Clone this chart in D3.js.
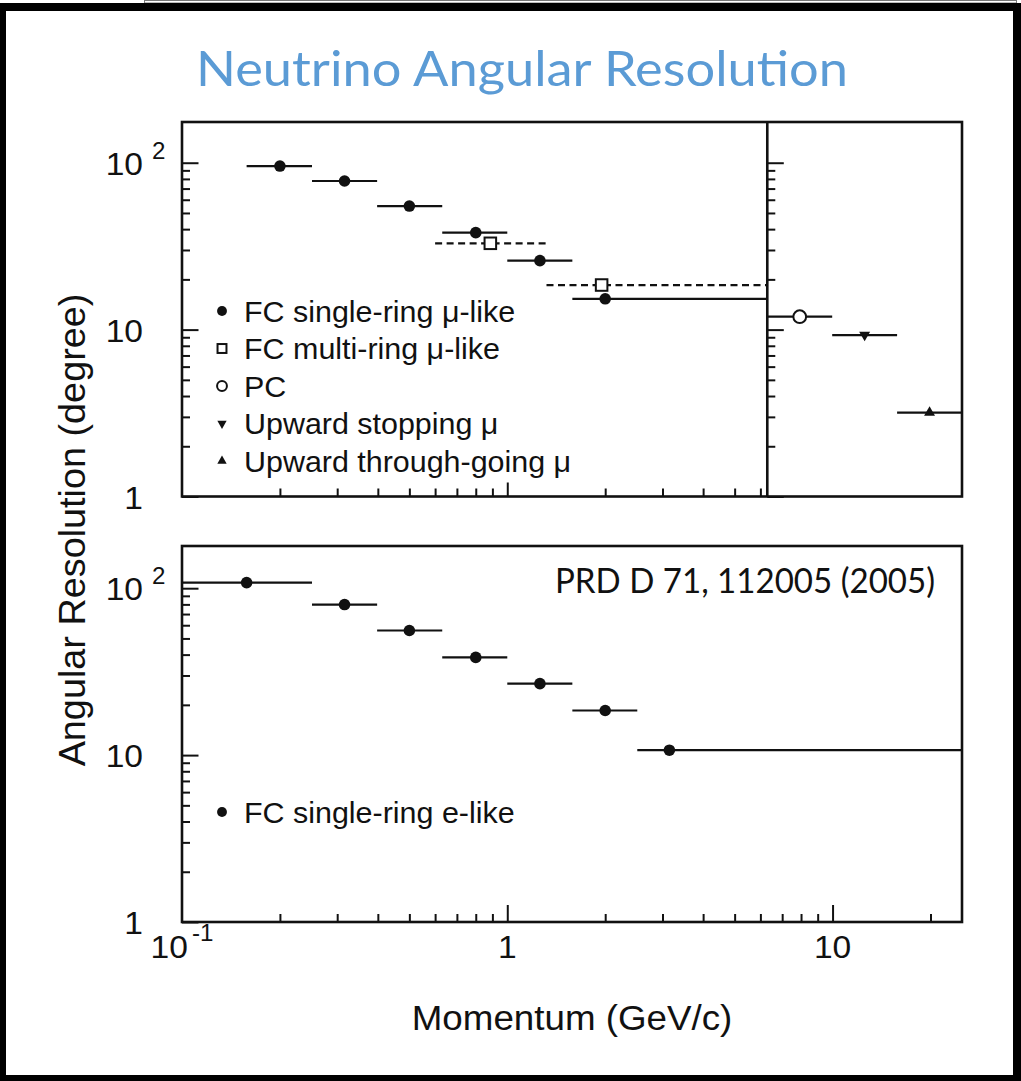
<!DOCTYPE html>
<html><head><meta charset="utf-8">
<script src="https://cdn.jsdelivr.net/npm/d3@7"></script>
<style>body{margin:0;background:#fff}svg{display:block}</style>
</head><body>
<svg id="c" width="1021" height="1081"></svg>
<script>
// ---------- data ----------
const muCenters = [0.2, 0.316, 0.5, 0.8, 1.26, 2.0];
const muLo      = [0.158, 0.251, 0.398, 0.631, 1.0, 1.585];
const muHi      = [0.251, 0.398, 0.631, 1.0, 1.585, 6.3];
const muRes     = [95.5, 77.7, 55.0, 38.1, 25.9, 15.3];

const mrCenters = [0.887, 1.95];
const mrLo      = [0.6, 1.32];
const mrHi      = [1.32, 6.3];
const mrRes     = [32.9, 18.5];

const sideCats  = ["PC", "Upward stopping μ", "Upward through-going μ"];
const sideRes   = [11.95, 9.28, 3.18];

const eCenters  = [0.158, 0.316, 0.5, 0.8, 1.26, 2.0, 3.15];
const eLo       = [0.1, 0.251, 0.398, 0.631, 1.0, 1.585, 2.51];
const eHi       = [0.251, 0.398, 0.631, 1.0, 1.585, 2.51, 25];
const eRes      = [108, 79.8, 55.8, 38.5, 26.8, 18.5, 10.7];

const legendTop    = ["FC single-ring μ-like", "FC multi-ring μ-like", "PC", "Upward stopping μ", "Upward through-going μ"];
const legendShapes = ["dot", "square", "circle", "down", "up"];
const legendBottom = ["FC single-ring e-like"];

const yTickLabels = [{v: 1, base: "1", exp: ""}, {v: 10, base: "10", exp: ""}, {v: 100, base: "10", exp: "2"}];
const xTickLabels = [{v: 0.1, base: "10", exp: "-1"}, {v: 1, base: "1", exp: ""}, {v: 10, base: "10", exp: ""}];
const yMinorTicks = [2,3,4,5,6,7,8,9,20,30,40,50,60,70,80,90];
const yMajorTicks = [1,10,100];
const xMinorTop   = [0.2,0.3,0.4,0.5,0.6,0.7,0.8,0.9,2,3,4,5,6];
const xMinorBot   = [0.2,0.3,0.4,0.5,0.6,0.7,0.8,0.9,2,3,4,5,6,7,8,9,20];
const xMajorTop   = [1];
const xMajorBot   = [1,10];

const xDomain = [0.1, 25];
const yTopDomain = [1, 175.4];
const yBotDomain = [1, 179];
const splitMomentum = 6.3;

const titleText = "Neutrino Angular Resolution";
const refText = "PRD D 71, 112005 (2005)";
const xTitle = "Momentum (GeV/c)";
const yTitle = "Angular Resolution (degree)";

// ---------- layout ----------
const W = 1021, H = 1081;
const L = 182, R = 962;
const topP = {t: 122, b: 496.5};
const botP = {t: 546, b: 922};
const INK = "#111";
const SX = 1.05; // slight horizontal stretch of the original figure's Helvetica text
const FONT = "'Liberation Sans', Arial, Helvetica, sans-serif";

const svg = d3.select("#c");

// page frame
svg.append("rect").attr("width", W).attr("height", H).attr("fill", "#fff");
svg.append("rect").attr("x", 144.5).attr("y", 0.5).attr("width", 872).attr("height", 2.5)
  .attr("fill", "none").attr("stroke", "#777").attr("stroke-width", 1);
svg.append("rect").attr("x", 0).attr("y", 3).attr("width", W).attr("height", H - 3).attr("fill", "#000");
svg.append("rect").attr("x", 6).attr("y", 11).attr("width", 1007).attr("height", 1064).attr("fill", "#fff");

// title
svg.append("text").attr("x", 196).attr("y", 86)
  .attr("font-family", "Lato, 'Open Sans', sans-serif").attr("font-size", 49)
  .attr("fill", "#5b9bd5").attr("textLength", 652).attr("lengthAdjust", "spacingAndGlyphs")
  .text(titleText);

// scales
const x = d3.scaleLog().domain(xDomain).range([L, R]);
const yT = d3.scaleLog().domain(yTopDomain).range([topP.b, topP.t]);
const yB = d3.scaleLog().domain(yBotDomain).range([botP.b, botP.t]);
const xDiv = x(splitMomentum);
const xs = d3.scaleBand().domain(sideCats).range([xDiv, R]);

function rootText(g, px, py, anchor, size, str) {
  return g.append("text")
    .attr("transform", `translate(${px},${py}) scale(${SX},1)`)
    .attr("text-anchor", anchor).attr("font-family", FONT)
    .attr("font-size", size).attr("fill", INK).text(str);
}

function yAxes(g, yScale, xPos) {
  const mk = (vals, len) => g.append("g").attr("transform", `translate(${xPos},0)`)
    .call(d3.axisRight(yScale).tickValues(vals).tickSize(len).tickFormat(""))
    .call(a => a.select(".domain").remove())
    .call(a => a.selectAll("line").attr("stroke", INK).attr("stroke-width", 2));
  mk(yMinorTicks.filter(v => v <= yScale.domain()[1]), 8);
  mk(yMajorTicks, 16.5);
}
function xAxes(g, yPos, minor, major, majorLen) {
  const mk = (vals, len) => g.append("g").attr("transform", `translate(0,${yPos})`)
    .call(d3.axisTop(x).tickValues(vals).tickSize(len).tickFormat(""))
    .call(a => a.select(".domain").remove())
    .call(a => a.selectAll("line").attr("stroke", INK).attr("stroke-width", 2));
  mk(minor, 8);
  mk(major, majorLen);
}
function yLabels(g, yScale) {
  yTickLabels.forEach(d => {
    const py = yScale(d.v);
    rootText(g, 143, py + 12, "end", 32, d.base);
    if (d.exp) rootText(g, 152, py - 4, "start", 23, d.exp);
  });
}
function marker(g, shape, cx, cy, s) {
  if (shape === "dot") {
    g.append("circle").attr("cx", cx).attr("cy", cy).attr("r", 5.8 * s).attr("fill", INK);
  } else if (shape === "circle") {
    g.append("circle").attr("cx", cx).attr("cy", cy).attr("r", 5.8 * s)
      .attr("fill", "#fff").attr("stroke", INK).attr("stroke-width", 2);
  } else if (shape === "square") {
    const a = 10.5 * s;
    g.append("rect").attr("x", cx - a / 2).attr("y", cy - a / 2).attr("width", a).attr("height", a)
      .attr("fill", "#fff").attr("stroke", INK).attr("stroke-width", 2);
  } else {
    g.append("path").attr("d", d3.symbol(d3.symbolTriangle, 52 * s * s)())
      .attr("transform", `translate(${cx},${cy}) rotate(${shape === "down" ? 180 : 0})`)
      .attr("fill", INK);
  }
}
function hbar(g, x1, x2, yy, dashed) {
  g.append("line").attr("x1", x1).attr("x2", x2).attr("y1", yy).attr("y2", yy)
    .attr("stroke", INK).attr("stroke-width", 2.2)
    .attr("stroke-dasharray", dashed ? "7,4.5" : null);
}

// ---------- upper panel ----------
const gT = svg.append("g");
yAxes(gT, yT, L);
yAxes(gT, yT, xDiv);
xAxes(gT, topP.b, xMinorTop, xMajorTop, 14);

mrCenters.forEach((c, i) => hbar(gT, x(mrLo[i]), x(mrHi[i]), yT(mrRes[i]), true));
muCenters.forEach((c, i) => hbar(gT, x(muLo[i]), x(muHi[i]), yT(muRes[i]), false));
mrCenters.forEach((c, i) => marker(gT, "square", x(c), yT(mrRes[i]), 1.1));
muCenters.forEach((c, i) => marker(gT, "dot", x(c), yT(muRes[i]), 1));

sideCats.forEach((c, i) => {
  hbar(gT, xs(c), xs(c) + xs.bandwidth(), yT(sideRes[i]), false);
  marker(gT, legendShapes[i + 2], xs(c) + xs.bandwidth() / 2, yT(sideRes[i]), i === 0 ? 1.1 : 1);
});

gT.append("rect").attr("x", L).attr("y", topP.t).attr("width", R - L).attr("height", topP.b - topP.t)
  .attr("fill", "none").attr("stroke", INK).attr("stroke-width", 2.6);
gT.append("line").attr("x1", xDiv).attr("x2", xDiv).attr("y1", topP.t).attr("y2", topP.b)
  .attr("stroke", INK).attr("stroke-width", 2.6);
yLabels(gT, yT);

// legend (upper)
legendTop.forEach((t, i) => {
  const cy = 311 + i * 37.5;
  marker(gT, legendShapes[i], 222, cy, 0.85);
  rootText(gT, 244, cy + 10.5, "start", 29, t);
});

// ---------- lower panel ----------
const gB = svg.append("g");
yAxes(gB, yB, L);
xAxes(gB, botP.b, xMinorBot, xMajorBot, 17);
eCenters.forEach((c, i) => hbar(gB, x(eLo[i]), x(eHi[i]), yB(eRes[i]), false));
eCenters.forEach((c, i) => marker(gB, "dot", x(c), yB(eRes[i]), 1));
gB.append("rect").attr("x", L).attr("y", botP.t).attr("width", R - L).attr("height", botP.b - botP.t)
  .attr("fill", "none").attr("stroke", INK).attr("stroke-width", 2.6);
yLabels(gB, yB);

legendBottom.forEach((t, i) => {
  const cy = 812 + i * 37.5;
  marker(gB, "dot", 222, cy, 0.85);
  rootText(gB, 244, cy + 10.5, "start", 29, t);
});

svg.append("text").attr("x", 555).attr("y", 593)
  .attr("font-family", "Lato, 'Open Sans', sans-serif").attr("font-size", 34)
  .attr("fill", "#111").attr("textLength", 380).attr("lengthAdjust", "spacingAndGlyphs")
  .text(refText);

// x tick labels
xTickLabels.forEach(d => {
  const t = svg.append("text")
    .attr("transform", `translate(${x(d.v)},958) scale(${SX},1)`)
    .attr("text-anchor", "middle").attr("font-family", FONT).attr("fill", INK);
  t.append("tspan").attr("font-size", 32).text(d.base);
  if (d.exp) t.append("tspan").attr("font-size", 23).attr("dx", 4).attr("dy", -17).text(d.exp);
});

// axis titles
rootText(svg, 572, 1030, "middle", 35, xTitle);
svg.append("text")
  .attr("transform", `translate(85,530) rotate(-90) scale(${SX},1)`)
  .attr("text-anchor", "middle").attr("font-family", FONT)
  .attr("font-size", 36).attr("fill", INK).text(yTitle);
</script>
</body></html>
